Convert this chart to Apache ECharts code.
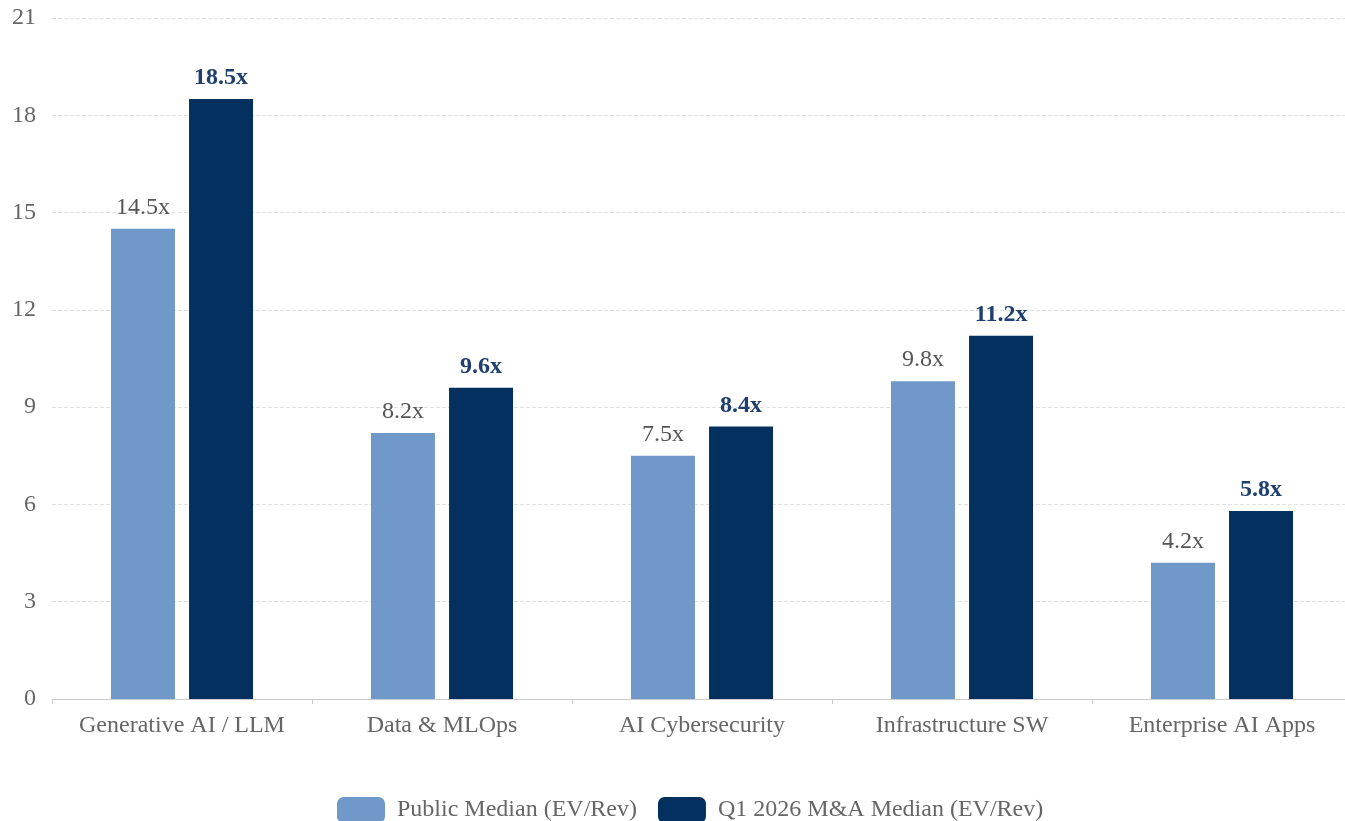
<!DOCTYPE html>
<html>
<head>
<meta charset="utf-8">
<script src="https://cdn.jsdelivr.net/npm/echarts@6/dist/echarts.min.js"></script>
<style>
  html, body { margin: 0; padding: 0; background: #fff; }
  #chart { width: 1345px; height: 821px; }
</style>
</head>
<body>
<div id="chart"></div>
<script>
var categories = ['Generative AI / LLM', 'Data & MLOps', 'AI Cybersecurity', 'Infrastructure SW', 'Enterprise AI Apps'];
var publicMedian = [14.5, 8.2, 7.5, 9.8, 4.2];
var maMedian = [18.5, 9.6, 8.4, 11.2, 5.8];

var chart = echarts.init(document.getElementById('chart'));
var font = '"Liberation Serif", "DejaVu Serif", serif';

var option = {
    animation: false,
    textStyle: { fontFamily: font },
    grid: { left: 52, width: 1300, top: 18, bottom: 122, containLabel: false, outerBoundsMode: 'none' },
    legend: {
        top: 792,
        left: 332,
        itemWidth: 48,
        itemHeight: 26,
        itemGap: 21,
        textStyle: { fontFamily: font, fontSize: 24, color: '#666', padding: [0, 0, 0, 7] },
        data: ['Public Median (EV/Rev)', 'Q1 2026 M&A Median (EV/Rev)']
    },
    xAxis: {
        type: 'category',
        data: categories,
        axisLine: { lineStyle: { color: '#ccc' } },
        axisTick: { show: true, lineStyle: { color: '#ccc' } },
        axisLabel: { fontFamily: font, fontSize: 24, color: '#666', margin: 15, interval: 0 }
    },
    yAxis: {
        type: 'value',
        min: 0,
        max: 21,
        interval: 3,
        axisLine: { show: false },
        axisTick: { show: false },
        axisLabel: { fontFamily: font, fontSize: 24, color: '#666', margin: 16 },
        splitLine: { lineStyle: { color: '#e0e0e0', type: 'dashed' } }
    },
    series: [
        {
            name: 'Public Median (EV/Rev)',
            type: 'bar',
            data: publicMedian,
            barWidth: 64,
            barGap: '22%',
            itemStyle: { color: '#7098c8' },
            label: {
                show: true,
                position: 'top',
                distance: 9,
                formatter: function (p) { return p.value.toFixed(1) + 'x'; },
                fontFamily: font,
                fontSize: 24,
                color: '#555'
            }
        },
        {
            name: 'Q1 2026 M&A Median (EV/Rev)',
            type: 'bar',
            data: maMedian,
            barWidth: 64,
            itemStyle: { color: '#03305e' },
            label: {
                show: true,
                position: 'top',
                distance: 9,
                formatter: function (p) { return p.value.toFixed(1) + 'x'; },
                fontFamily: font,
                fontSize: 24,
                fontWeight: 'bold',
                color: '#1f3f6e'
            }
        }
    ]
};
chart.setOption(option);
</script>
</body>
</html>
